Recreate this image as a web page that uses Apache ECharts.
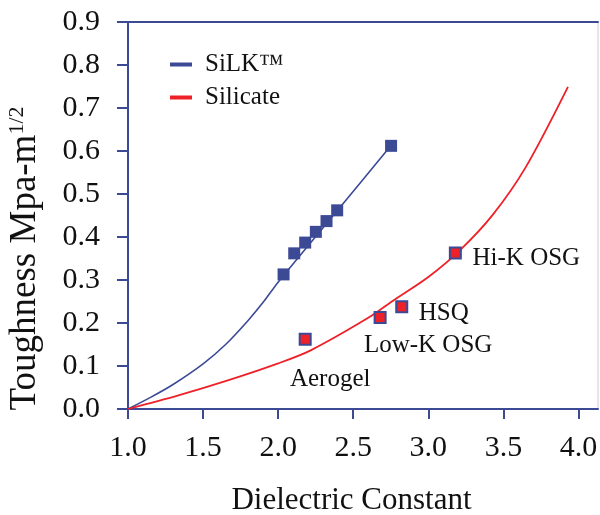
<!DOCTYPE html>
<html>
<head>
<meta charset="utf-8">
<script src="https://cdn.jsdelivr.net/npm/echarts@6/dist/echarts.min.js"></script>
<style>
  html, body { margin: 0; padding: 0; background: #fff; }
  #ct { width: 600px; height: 515px; }
</style>
</head>
<body>
<div id="ct"></div>
<script>
// tick values
const xTicks = [1.0, 1.5, 2.0, 2.5, 3.0, 3.5, 4.0];

// SiLK fitted curve
const silkCurveX = [1.0, 1.15, 1.3, 1.5, 1.65, 1.8, 1.9, 2.0, 2.4, 2.75];
const silkCurveY = [0, 0.027, 0.057, 0.105, 0.15, 0.206, 0.248, 0.295, 0.464, 0.612];
// SiLK measured points
const silkPtX = [2.036, 2.107, 2.18, 2.251, 2.322, 2.393, 2.752];
const silkPtY = [0.313, 0.362, 0.387, 0.412, 0.437, 0.462, 0.612];

// Silicate fitted curve
const silCurveX = [1.0, 1.33, 1.67, 2.0, 2.22, 2.6, 2.77, 3.0, 3.21, 3.43, 3.65, 3.93];
const silCurveY = [0, 0.031, 0.067, 0.106, 0.137, 0.212, 0.253, 0.307, 0.369, 0.452, 0.563, 0.749];
// Silicate materials
const silNames = ["Aerogel", "Low-K OSG", "HSQ", "Hi-K OSG"];
const silPtX = [2.18, 2.679, 2.823, 3.18];
const silPtY = [0.162, 0.213, 0.238, 0.363];

const BLUE = "#3c4a96";
const RED = "#ee2128";
const FONT = "'Liberation Serif', 'Times New Roman', serif";

// label offsets (px) from marker centre
const labelOffsets = [[25, 40], [48, 28], [42, 7], [71, 6]];

const zip = (xs, ys) => xs.map((x, i) => [x, ys[i]]);

const chart = echarts.init(document.getElementById("ct"));
const option = {
  animation: false,
  backgroundColor: "#fff",
  textStyle: { fontFamily: FONT },
  legend: {
    orient: "vertical",
    left: 170,
    top: 52,
    padding: 0,
    itemGap: 8,
    itemWidth: 22,
    itemHeight: 4,
    icon: "rect",
    data: ["SiLK™", "Silicate"],
    textStyle: { fontFamily: FONT, fontSize: 25, color: "#111", padding: [0, 0, 0, 8] }
  },
  grid: { left: 128, right: 2, top: 22, bottom: 106, outerBoundsMode: "none" },
  xAxis: [
    {
      type: "value",
      min: 1,
      max: 4.13,
      interval: 0.5,
      name: "Dielectric Constant",
      nameLocation: "middle",
      nameGap: 76,
      nameTextStyle: { fontFamily: FONT, fontSize: 31, color: "#111", padding: [0, 23, 0, 0] },
      axisLine: { onZero: false, lineStyle: { color: BLUE, width: 2 } },
      axisTick: { show: true, length: 10, lineStyle: { color: BLUE, width: 2 }, customValues: xTicks },
      axisLabel: {
        fontFamily: FONT, fontSize: 30, color: "#111", margin: 24,
        customValues: xTicks,
        formatter: v => v.toFixed(1)
      },
      splitLine: { show: false }
    },
    {
      type: "value",
      position: "top",
      min: 1,
      max: 4.13,
      axisLine: { show: true, onZero: false, lineStyle: { color: BLUE, width: 2 } },
      axisTick: { show: false },
      axisLabel: { show: false },
      splitLine: { show: false }
    }
  ],
  yAxis: [
    {
      type: "value",
      min: 0,
      max: 0.9,
      interval: 0.1,
      name: "Toughness Mpa-m{sup|1/2}",
      nameLocation: "middle",
      nameRotate: 90,
      nameGap: 84,
      nameTextStyle: {
        fontFamily: FONT, fontSize: 37, color: "#111", padding: [0, 86, 0, 0],
        rich: { sup: { fontFamily: FONT, fontSize: 22, color: "#111", verticalAlign: "top", padding: [0, 0, 16, 0] } }
      },
      axisLine: { show: true, onZero: false, lineStyle: { color: BLUE, width: 2 } },
      axisTick: { show: true, length: 11, lineStyle: { color: BLUE, width: 2 } },
      axisLabel: { fontFamily: FONT, fontSize: 30, color: "#111", margin: 28, formatter: v => v.toFixed(1) },
      splitLine: { show: false }
    },
    {
      type: "value",
      position: "right",
      min: 0,
      max: 0.9,
      axisLine: { show: true, onZero: false, lineStyle: { color: "#dcdde6", width: 1.5 } },
      axisTick: { show: false },
      axisLabel: { show: false },
      splitLine: { show: false }
    }
  ],
  series: [
    {
      name: "SiLK™",
      type: "line",
      data: zip(silkCurveX, silkCurveY),
      smooth: 0.3,
      showSymbol: false,
      color: BLUE,
      lineStyle: { color: BLUE, width: 1.6 },
      z: 2
    },
    {
      name: "Silicate",
      type: "line",
      data: zip(silCurveX, silCurveY),
      smooth: 0.3,
      showSymbol: false,
      color: RED,
      lineStyle: { color: RED, width: 1.8 },
      z: 2
    },
    {
      name: "SiLK points",
      type: "scatter",
      symbol: "rect",
      symbolSize: 12,
      itemStyle: { color: BLUE, opacity: 1 },
      data: zip(silkPtX, silkPtY),
      z: 3
    },
    {
      name: "Silicate points",
      type: "scatter",
      symbol: "rect",
      symbolSize: 11,
      itemStyle: { color: RED, borderColor: BLUE, borderWidth: 2, opacity: 1 },
      data: silPtX.map((x, i) => ({
        value: [x, silPtY[i]],
        name: silNames[i],
        label: {
          show: true,
          formatter: silNames[i],
          position: "inside",
          offset: labelOffsets[i],
          fontFamily: FONT,
          fontSize: 25,
          color: "#111"
        }
      })),
      z: 3
    }
  ]
};
chart.setOption(option);
</script>
</body>
</html>
